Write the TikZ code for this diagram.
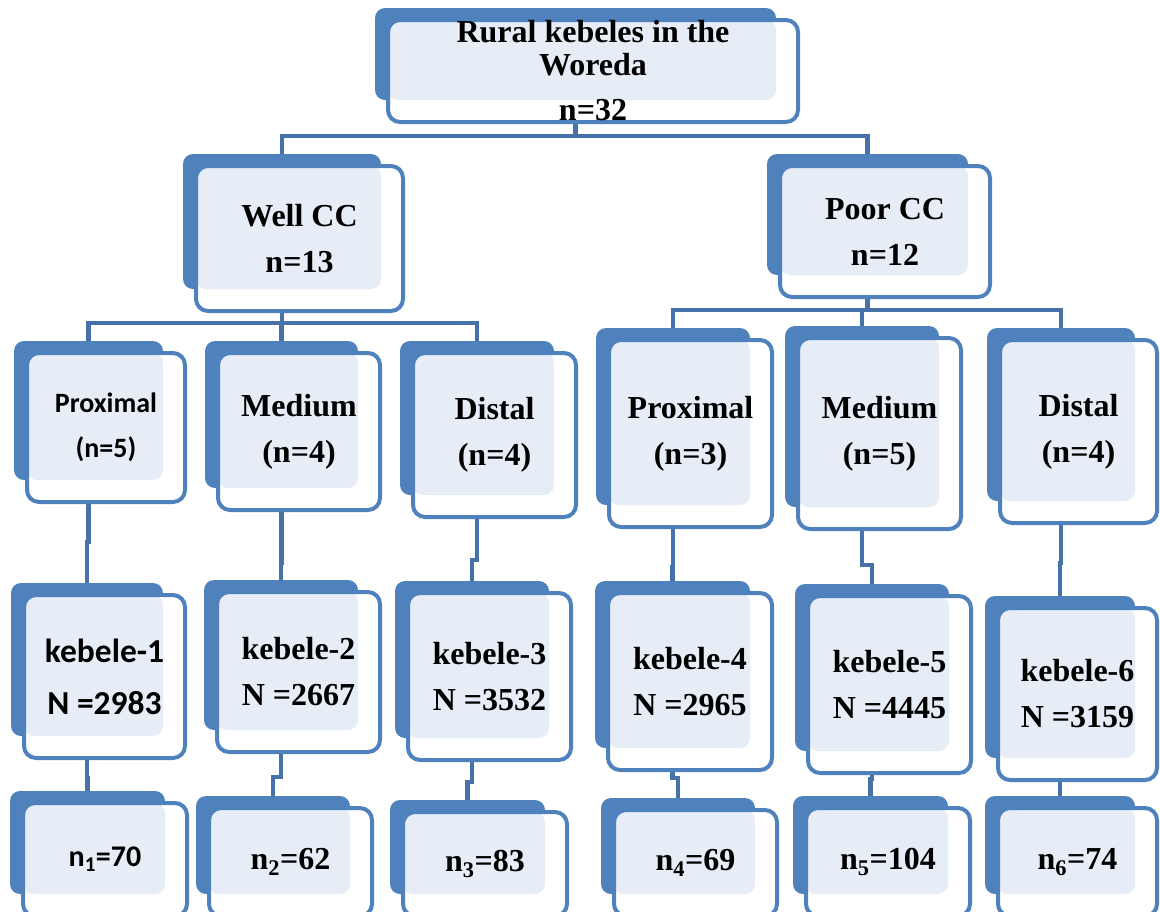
\documentclass[tikz,border=0pt]{standalone}
\usepackage{fontspec}
\setmainfont{Liberation Serif}
\newfontfamily\calibrifont{Carlito}
\usetikzlibrary{backgrounds}

\definecolor{boxblue}{RGB}{79,129,189}
\definecolor{lineblue}{RGB}{70,114,168}
\definecolor{dotblue}{RGB}{231,237,246}

\begin{document}
\begin{tikzpicture}[
  x=1pt, y=-1pt,
  cardnode/.style={rectangle, rounded corners=12pt, draw=boxblue, line width=4pt, fill=white,
    inner sep=0pt, outer sep=0pt, align=center,
    path picture={\fill[dotblue, rounded corners=10pt] (path picture bounding box.north west)
      rectangle ([xshift=-22pt, yshift=22pt]path picture bounding box.south east);}},
  serifnode/.style={cardnode, font=\fontsize{32}{46}\selectfont\bfseries},
  sansnode/.style={cardnode, font=\calibrifont\fontsize{28}{45}\selectfont\bfseries},
  linkline/.style={draw=lineblue, line width=4.5pt}
  ]
  \useasboundingbox (0,0) rectangle (1160,911);
  \clip (0,0) rectangle (1160,911);

  % Woreda
  \node[serifnode, minimum width=410pt, minimum height=102pt, font=\fontsize{32}{33}\selectfont\bfseries]
                      (woreda)   at (593,71)      {Rural kebeles in the\\Woreda\\[12pt]n=32};

  % CC groups
  \node[serifnode, minimum width=207pt, minimum height=145pt] (wellcc)   at (299.5,238.5) {Well CC\\n=13};
  \node[serifnode, minimum width=210pt, minimum height=131pt] (poorcc)   at (885,231.5)   {Poor CC\\n=12};

  % Distance groups
  \node[sansnode,  minimum width=158pt, minimum height=149pt] (proxwell) at (106,427.5)   {Proximal\\(n=5)};
  \node[serifnode, minimum width=162pt, minimum height=157pt] (medwell)  at (299,431.5)   {Medium\\(n=4)};
  \node[serifnode, minimum width=163pt, minimum height=164pt] (distwell) at (494.5,435)   {Distal\\(n=4)};
  \node[serifnode, minimum width=163pt, minimum height=187pt] (proxpoor) at (690.5,433.5) {Proximal\\(n=3)};
  \node[serifnode, minimum width=163pt, minimum height=191pt] (medpoor)  at (879.5,433.5) {Medium\\(n=5)};
  \node[serifnode, minimum width=157pt, minimum height=183pt] (distpoor) at (1078.5,431.5) {Distal\\(n=4)};

  % Kebeles
  \node[sansnode,  minimum width=161pt, minimum height=163pt, font=\calibrifont\fontsize{33.5}{52}\selectfont\bfseries]
                                                              (kebele1)  at (104.5,676.5) {kebele-1\\N =2983};
  \node[serifnode, minimum width=163pt, minimum height=160pt] (kebele2)  at (298.5,672)   {kebele-2\\N =2667};
  \node[serifnode, minimum width=163pt, minimum height=167pt] (kebele3)  at (489.5,676.5) {kebele-3\\N =3532};
  \node[serifnode, minimum width=164pt, minimum height=177pt] (kebele4)  at (690,681.5)   {kebele-4\\N =2965};
  \node[serifnode, minimum width=163pt, minimum height=177pt] (kebele5)  at (889.5,684.5) {kebele-5\\N =4445};
  \node[serifnode, minimum width=159pt, minimum height=172pt] (kebele6)  at (1077.5,694)  {kebele-6\\N =3159};

  % Samples
  \node[sansnode,  minimum width=164pt, minimum height=113pt, font=\calibrifont\fontsize{30}{36}\selectfont\bfseries]
                                                              (sample1)  at (105,859.5)   {n\textsubscript{1}=70};
  \node[serifnode, minimum width=163pt, minimum height=108pt] (sample2)  at (290.5,862)   {n\textsubscript{2}=62};
  \node[serifnode, minimum width=164pt, minimum height=104pt] (sample3)  at (485,864)     {n\textsubscript{3}=83};
  \node[serifnode, minimum width=163pt, minimum height=106pt] (sample4)  at (695.5,863)   {n\textsubscript{4}=69};
  \node[serifnode, minimum width=164pt, minimum height=108pt] (sample5)  at (888,862)     {n\textsubscript{5}=104};
  \node[serifnode, minimum width=159pt, minimum height=108pt] (sample6)  at (1077.5,862)  {n\textsubscript{6}=74};

  \begin{scope}[on background layer]
    % Links
    \draw[linkline] ([xshift=-17.5pt]woreda.south) -- ++(0,14) -| ([xshift=-17.5pt]wellcc.north);
    \draw[linkline] ([xshift=-17.5pt]woreda.south) -- ++(0,14) -| ([xshift=-17.5pt]poorcc.north);
    \foreach \zone in {proxwell, medwell, distwell}
      \draw[linkline] ([xshift=-17.5pt]wellcc.south) -- ++(0,12) -| ([xshift=-17.5pt]\zone.north);
    \foreach \zone in {proxpoor, medpoor, distpoor}
      \draw[linkline] ([xshift=-17.5pt]poorcc.south) -- ++(0,13) -| ([xshift=-17.5pt]\zone.north);
    \foreach \zone/\keb/\d in {proxwell/kebele1/40, medwell/kebele2/53, distwell/kebele3/43,
                               proxpoor/kebele4/40, medpoor/kebele5/36, distpoor/kebele6/40}
      \draw[linkline] ([xshift=-17.5pt]\zone.south) -- ++(0,\d) -| ([xshift=-17.5pt]\keb.north);
    \foreach \keb/\smp/\d in {kebele1/sample1/20, kebele2/sample2/25, kebele3/sample3/22,
                              kebele4/sample4/8, kebele5/sample5/6, kebele6/sample6/5}
      \draw[linkline] ([xshift=-17.5pt]\keb.south) -- ++(0,\d) -| ([xshift=-17.5pt]\smp.north);

    % Shadows
    \foreach \card in {woreda, wellcc, poorcc, proxwell, medwell, distwell, proxpoor, medpoor, distpoor,
                       kebele1, kebele2, kebele3, kebele4, kebele5, kebele6,
                       sample1, sample2, sample3, sample4, sample5, sample6}
      \fill[boxblue, rounded corners=10pt] ([xshift=-13pt, yshift=12pt]\card.north west)
        rectangle ([xshift=-22pt, yshift=22pt]\card.south east);
  \end{scope}
\end{tikzpicture}
\end{document}
